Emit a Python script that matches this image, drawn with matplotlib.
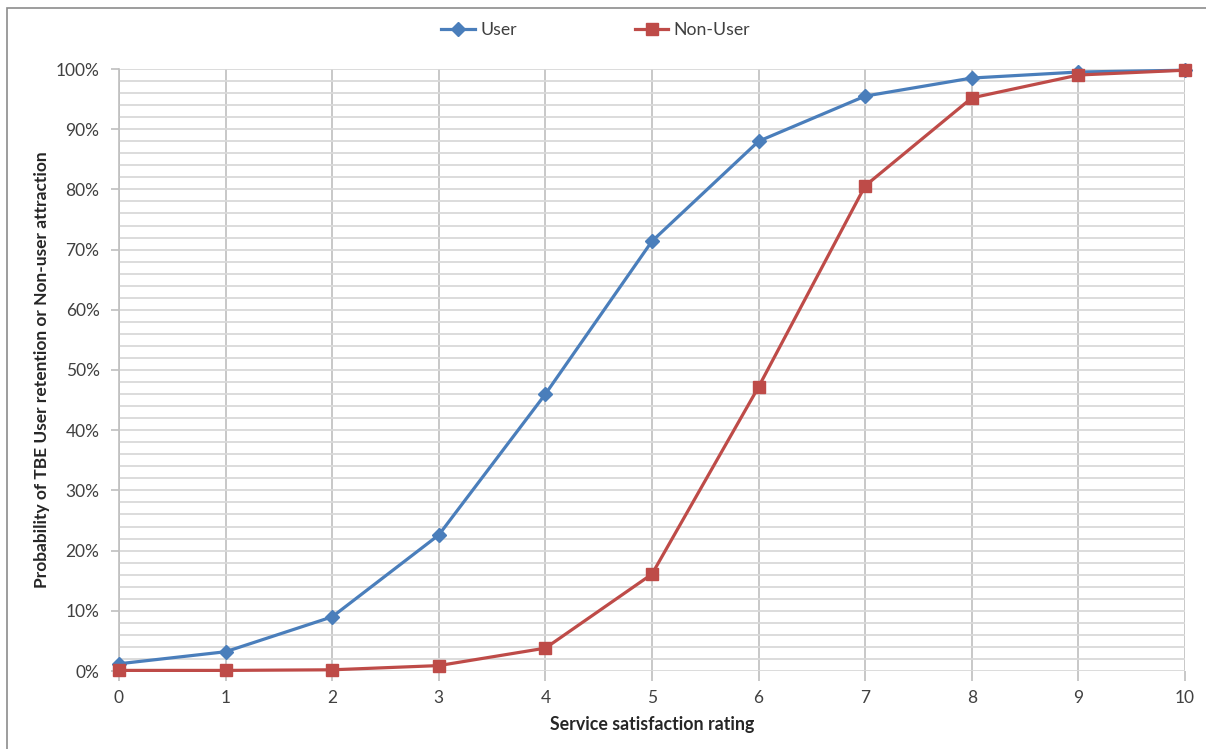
import matplotlib
matplotlib.use("Agg")
import matplotlib.pyplot as plt
from matplotlib.patches import Rectangle
from matplotlib.ticker import MultipleLocator, FuncFormatter

# ── data ─────────────────────────────────────────────────────────────────────
rating   = [0, 1, 2, 3, 4, 5, 6, 7, 8, 9, 10]
user     = [1.2, 3.2, 9.0, 22.6, 46.0, 71.4, 88.0, 95.5, 98.5, 99.5, 99.8]
non_user = [0.1, 0.1, 0.2, 0.9, 3.8, 16.1, 47.2, 80.6, 95.2, 99.0, 99.8]

C_USER = "#4a7ebb"
C_NON  = "#be4b48"
C_TXT  = "#404040"
FONT   = ["Lato", "DejaVu Sans"]

plt.rcParams["font.family"] = FONT

fig = plt.figure(figsize=(12.06, 7.49), dpi=100)
ax = fig.add_axes([119 / 1206, 1 - 671 / 749, (1185 - 119) / 1206, (671 - 69) / 749])

# chart-area frame
fig.patches.append(Rectangle((7 / 1206, -0.1), 1.2, 1 - 8 / 749 + 0.1,
                             transform=fig.transFigure, fill=False,
                             ec="#8c8c8c", lw=1.2, zorder=0))

ax.plot(rating, user, color=C_USER, lw=2.3, marker="D", ms=7,
        mfc=C_USER, mec=C_USER, label="User", clip_on=False, zorder=4)
ax.plot(rating, non_user, color=C_NON, lw=2.3, marker="s", ms=9,
        mfc=C_NON, mec=C_NON, label="Non-User", clip_on=False, zorder=5)

ax.set_xlim(0, 10)
ax.set_ylim(0, 100)

# gridlines: every 2% horizontally, every rating step vertically
ax.yaxis.set_major_locator(MultipleLocator(10))
ax.yaxis.set_minor_locator(MultipleLocator(2))
ax.xaxis.set_major_locator(MultipleLocator(1))
ax.yaxis.set_major_formatter(FuncFormatter(lambda v, p: f"{v:.0f}%"))
ax.grid(True, which="both", axis="y", color="#d9d9d9", lw=1.3)
ax.grid(True, which="major", axis="x", color="#bfbfbf", lw=1.2)
ax.set_axisbelow(True)

for side in ["top", "right", "bottom"]:
    ax.spines[side].set_visible(False)
ax.spines["left"].set_color("#bfbfbf")
ax.spines["left"].set_linewidth(1.2)

ax.tick_params(axis="y", which="major", length=6, width=1.2, color="#bfbfbf",
               labelsize=12.5, labelcolor=C_TXT, pad=8)
ax.tick_params(axis="y", which="minor", length=0)
ax.tick_params(axis="x", length=7, width=1.2, color="#bfbfbf",
               labelsize=12.5, labelcolor=C_TXT, pad=7)

ax.set_xlabel("Service satisfaction rating", fontsize=12.8, fontweight="bold",
              color="#262626", labelpad=7)
ax.set_ylabel("Probability of TBE User retention or Non-user attraction",
              fontsize=12.5, fontweight="bold", color="#262626", labelpad=4)

fig.legend(loc="center", bbox_to_anchor=(0.494, 1 - 30 / 749), ncol=2,
           frameon=False, fontsize=12.7, columnspacing=6.7, handlelength=1.9,
           handletextpad=0.3, labelcolor=C_TXT)

fig.savefig("out.png", dpi=100)
